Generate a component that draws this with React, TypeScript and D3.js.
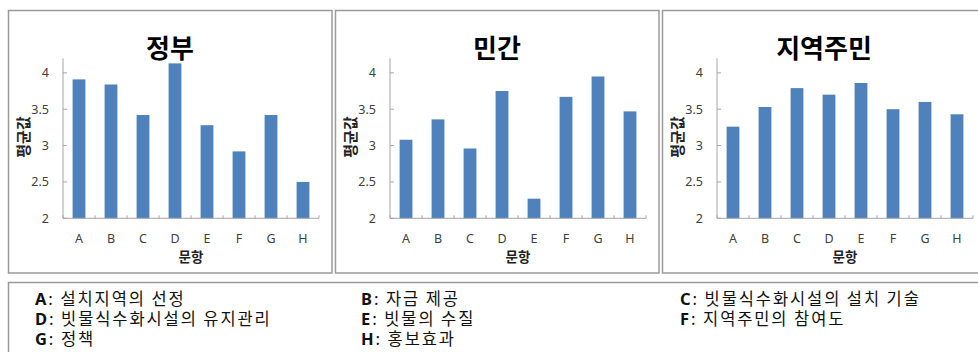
import React from 'react';
import * as d3 from 'd3';

// Survey items (문항) and mean scores per respondent group
const categories = ['A', 'B', 'C', 'D', 'E', 'F', 'G', 'H'];
const governmentValues = [3.91, 3.84, 3.42, 4.13, 3.28, 2.92, 3.42, 2.5];
const privateValues = [3.08, 3.36, 2.96, 3.75, 2.27, 3.67, 3.95, 3.47];
const residentValues = [3.26, 3.53, 3.79, 3.7, 3.86, 3.5, 3.6, 3.43];
const panelTitles = ['정부', '민간', '지역주민'];
const yTicks = [2, 2.5, 3, 3.5, 4];
const yDomain = [2, 4.2];
const itemLabels = [
  '설치지역의 선정',
  '자금 제공',
  '빗물식수화시설의 설치 기술',
  '빗물식수화시설의 유지관리',
  '빗물의 수질',
  '지역주민의 참여도',
  '정책',
  '홍보효과',
];

const W = 978;
const H = 352;
const BAR = '#4f81bd';
const FRAME = '#9a9a9a';
const AXIS = '#a6a6a6';
const TEXT = '#404040';
const KR = '"Noto Sans CJK KR", "Noto Sans", sans-serif';
const LAT = '"Noto Sans", "Noto Sans CJK KR", sans-serif';

const panelLefts = [8, 335, 662];
const panelWidth = 323.5;
const panelTop = 10;
const panelBottom = 272.5;
const axisOffset = 55;
const plotWidth = 256;

const y = d3.scaleLinear().domain(yDomain).range([218.3, 58.3]);

function Panel({ left, title, values }: { left: number; title: string; values: number[] }) {
  const x0 = left + axisOffset;
  const x = d3
    .scaleBand<string>()
    .domain(categories)
    .range([x0, x0 + plotWidth])
    .paddingInner(0.6)
    .paddingOuter(0.3);
  const step = x.step();
  const y0 = y(yDomain[0]);
  return (
    <g>
      <rect
        x={left + 0.5}
        y={panelTop + 0.5}
        width={panelWidth}
        height={panelBottom - panelTop}
        fill="#fff"
        stroke={FRAME}
        strokeWidth={1.5}
      />
      <text
        x={left + 162}
        y={58}
        textAnchor="middle"
        fontFamily={KR}
        fontWeight={700}
        fontSize={26}
        fill="#000"
      >
        {title}
      </text>
      {values.map((v, i) => (
        <rect
          key={categories[i]}
          x={x(categories[i])}
          y={y(v)}
          width={x.bandwidth()}
          height={y0 - y(v)}
          fill={BAR}
        />
      ))}
      {/* value axis */}
      <line x1={x0} x2={x0} y1={y(yDomain[1])} y2={y0} stroke={AXIS} strokeWidth={1} />
      {yTicks.map((t) => (
        <g key={t}>
          <line x1={x0} x2={x0 + 4} y1={y(t)} y2={y(t)} stroke={AXIS} />
          <text
            x={x0 - 14}
            y={y(t)}
            dy="0.35em"
            textAnchor="end"
            fontFamily={LAT}
            fontSize={12.5}
            fill={TEXT}
          >
            {t}
          </text>
        </g>
      ))}
      {/* category axis */}
      <line x1={x0} x2={x0 + plotWidth} y1={y0} y2={y0} stroke={AXIS} strokeWidth={1} />
      {d3.range(categories.length + 1).map((i) => (
        <line
          key={i}
          x1={x0 + i * step}
          x2={x0 + i * step}
          y1={y0}
          y2={y0 - 3}
          stroke={AXIS}
        />
      ))}
      {categories.map((c) => (
        <text
          key={c}
          x={(x(c) as number) + x.bandwidth() / 2}
          y={242.5}
          textAnchor="middle"
          fontFamily={LAT}
          fontSize={12.5}
          fill={TEXT}
        >
          {c}
        </text>
      ))}
      <text
        x={x0 + plotWidth / 2}
        y={262}
        textAnchor="middle"
        fontFamily={KR}
        fontWeight={700}
        fontSize={13.5}
        fill="#222"
      >
        문항
      </text>
      <text
        transform={`translate(${x0 - 34},137) rotate(-90)`}
        textAnchor="middle"
        fontFamily={KR}
        fontWeight={700}
        fontSize={15}
        fill="#222"
      >
        평균값
      </text>
    </g>
  );
}

export default function App() {
  const series = [governmentValues, privateValues, residentValues];
  const colX = [35, 361, 680];
  const rowY = [304.5, 324.5, 344.5];
  return (
    <svg
      width={W}
      height={H}
      viewBox={`0 0 ${W} ${H}`}
      style={{ position: 'absolute', left: 0, top: 0, background: '#fff' }}
    >
      <rect x={0} y={0} width={W} height={H} fill="#fff" />
      {panelTitles.map((t, i) => (
        <Panel key={t} left={panelLefts[i]} title={t} values={series[i]} />
      ))}
      <rect
        x={8.5}
        y={282.5}
        width={W + 10}
        height={H}
        fill="#fff"
        stroke={FRAME}
        strokeWidth={1.5}
      />
      {itemLabels.map((label, i) => (
        <text
          key={categories[i]}
          x={colX[i % 3]}
          y={rowY[Math.floor(i / 3)]}
          fontFamily={KR}
          fontSize={16.5}
          letterSpacing={1.9}
          fill="#111"
        >
          <tspan fontFamily={LAT} fontWeight={700}>
            {categories[i]}
          </tspan>
          {': ' + label}
        </text>
      ))}
    </svg>
  );
}
